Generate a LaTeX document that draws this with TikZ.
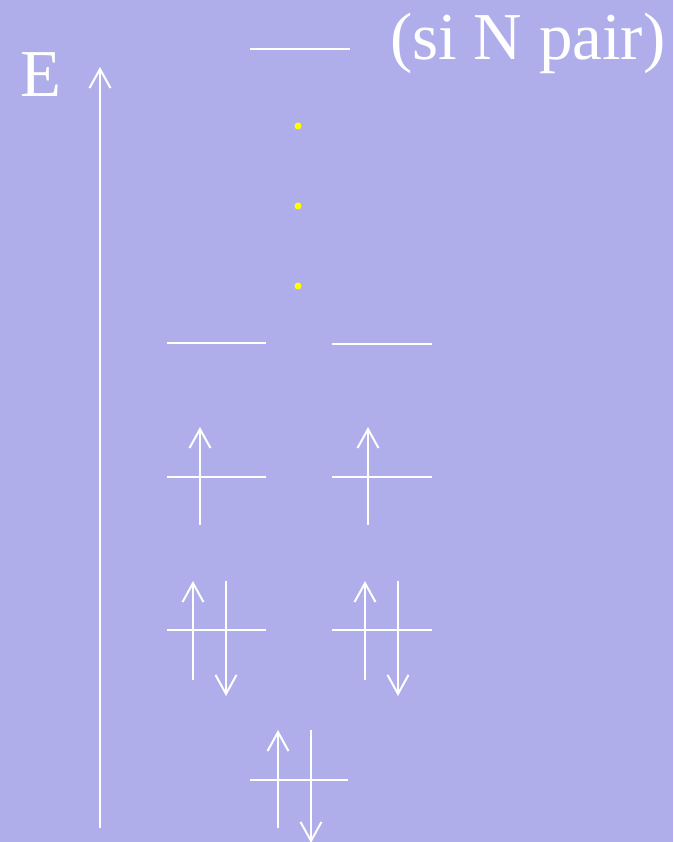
\documentclass[tikz,border=0pt]{standalone}
\usepackage{fontspec}
\setmainfont{Liberation Serif}
\usetikzlibrary{arrows.meta}
\definecolor{bgc}{RGB}{175,174,235}
\definecolor{dotc}{RGB}{255,255,0}
\tikzset{
  lvl/.style={draw=white, line width=2pt},
  spin/.style={draw=white, line width=2pt, -{Straight Barb[length=19pt,width=21pt,line width=2pt]}},
  lab/.style={text=white, inner sep=0pt, anchor=base west, font=\fontsize{67}{80}\selectfont},
  dotst/.style={fill=dotc, draw=none}
}
\begin{document}
\begin{tikzpicture}[x=1pt,y=-1pt]
\fill[bgc] (0,0) rectangle (673,842);
\useasboundingbox (0,0) rectangle (673,842);
% labels
\node[lab] (E) at (20,97) {E};
\node[lab] (si) at (390,60) {(si N pair)};
% energy axis
\coordinate (axb) at (100,828);
\coordinate (axt) at (100,67);
\draw[spin] (axb) -- (axt);
% top level
\coordinate (t1) at (250,49); \coordinate (t2) at (350,49);
\draw[lvl] (t1) -- (t2);
% dots
\fill[dotst] (298,126) circle (3.5);
\fill[dotst] (298,206) circle (3.5);
\fill[dotst] (298,286) circle (3.5);
% empty levels
\draw[lvl] (167,343) coordinate (a1) -- (266,343) coordinate (a2);
\draw[lvl] (332,344) coordinate (b1) -- (432,344) coordinate (b2);
% singly occupied
\draw[lvl] (167,477) coordinate (c1) -- (266,477) coordinate (c2);
\draw[lvl] (332,477) coordinate (d1) -- (432,477) coordinate (d2);
\draw[spin] (200,525) coordinate (c3) -- (200,427) coordinate (c4);
\draw[spin] (368,525) coordinate (d3) -- (368,427) coordinate (d4);
% doubly occupied
\draw[lvl] (167,630) coordinate (e1) -- (266,630) coordinate (e2);
\draw[lvl] (332,630) coordinate (f1) -- (432,630) coordinate (f2);
\draw[spin] (193,680) coordinate (e3) -- (193,581) coordinate (e4);
\draw[spin] (226,581) coordinate (e5) -- (226,696) coordinate (e6);
\draw[spin] (365,680) coordinate (f3) -- (365,581) coordinate (f4);
\draw[spin] (398,581) coordinate (f5) -- (398,696) coordinate (f6);
% lowest level
\draw[lvl] (250,780) coordinate (g1) -- (348,780) coordinate (g2);
\draw[spin] (278,828) coordinate (g3) -- (278,730) coordinate (g4);
\draw[spin] (311,730) coordinate (g5) -- (311,843) coordinate (g6);
\end{tikzpicture}
\end{document}
